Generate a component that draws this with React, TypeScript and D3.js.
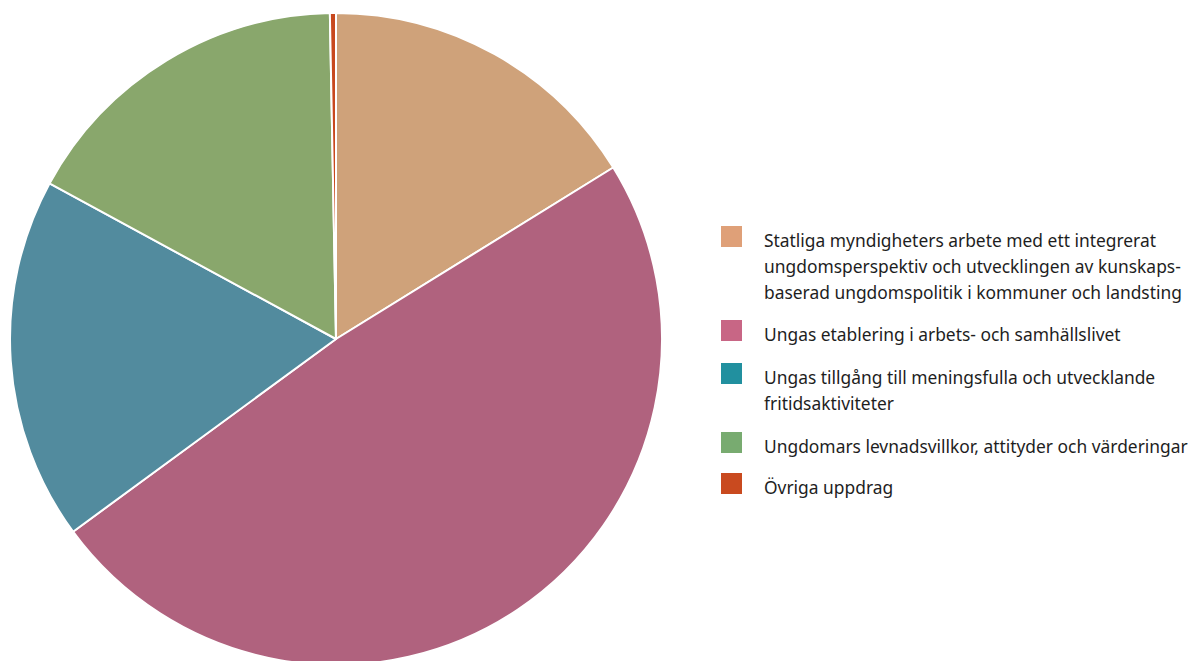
import React from "react";
import * as d3 from "d3";

const categories = [
  "Statliga myndigheters arbete med ett integrerat ungdomsperspektiv och utvecklingen av kunskaps-baserad ungdomspolitik i kommuner och landsting",
  "Ungas etablering i arbets- och samhällslivet",
  "Ungas tillgång till meningsfulla och utvecklande fritidsaktiviteter",
  "Ungdomars levnadsvillkor, attityder och värderingar",
  "Övriga uppdrag",
];
const legendLines = [
  ["Statliga myndigheters arbete med ett integrerat", "ungdomsperspektiv och utvecklingen av kunskaps-", "baserad ungdomspolitik i kommuner och landsting"],
  ["Ungas etablering i arbets- och samhällslivet"],
  ["Ungas tillgång till meningsfulla och utvecklande", "fritidsaktiviteter"],
  ["Ungdomars levnadsvillkor, attityder och värderingar"],
  ["Övriga uppdrag"],
];
const values = [16.2, 48.8, 18.0, 16.8, 0.3];
const sliceColors = ["#CFA27A", "#B0627E", "#528B9E", "#89A76C", "#C8481E"];
const swatchColors = ["#DFA078", "#C86685", "#21909F", "#78AB70", "#C94A1F"];

export default function App() {
  const W = 1197, H = 661;
  const cx = 336, cy = 339, r = 326;
  const pie = d3.pie<number>().sort(null).value((d) => d)(values);
  const arc = d3.arc<d3.PieArcDatum<number>>().innerRadius(0).outerRadius(r);
  const legendTops = [226, 320, 363, 432, 473];
  const lineH = 26;
  return (
    <svg width={W} height={H} style={{ position: "absolute", left: 0, top: 0 }}
      fontFamily="'Noto Sans', sans-serif">
      <g transform={`translate(${cx},${cy})`}>
        {pie.map((p, i) => (
          <path key={i} d={arc(p) || ""} fill={sliceColors[i]} stroke="#fff" strokeWidth={2} strokeLinejoin="round" />
        ))}
      </g>
      {categories.map((c, i) => (
        <g key={c}>
          <rect x={721} y={legendTops[i]} width={21} height={21} fill={swatchColors[i]} />
          <text fontSize={17.4} fill="#1e1e1e">
            {legendLines[i].map((l, j) => (
              <tspan key={j} x={764} y={legendTops[i] + 21 + j * lineH}>{l}</tspan>
            ))}
          </text>
        </g>
      ))}
    </svg>
  );
}
